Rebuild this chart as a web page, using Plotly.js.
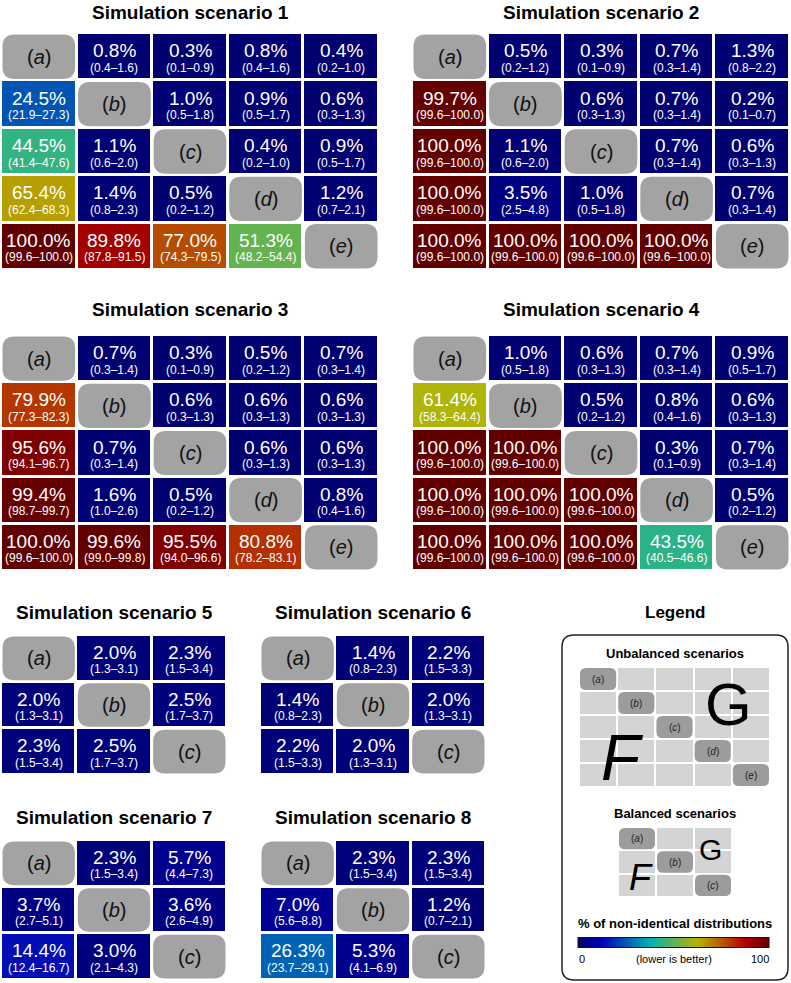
<!DOCTYPE html>
<html><head><meta charset="utf-8">
<script src="https://cdn.plot.ly/plotly-3.0.1.min.js"></script>
<style>html,body{margin:0;padding:0;background:#fff}</style>
</head><body><div id="chart" style="width:791px;height:983px"></div>
<script>
const W = 791, H = 983;
const FONT = 'Liberation Sans, Arial, sans-serif';

// ---- data ----
const labels5 = ['a','b','c','d','e'];
const labels3 = ['a','b','c'];
const titles = ['Simulation scenario 1','Simulation scenario 2','Simulation scenario 3','Simulation scenario 4',
                'Simulation scenario 5','Simulation scenario 6','Simulation scenario 7','Simulation scenario 8'];

const s1Pct = [[null,0.8,0.3,0.8,0.4],[24.5,null,1.0,0.9,0.6],[44.5,1.1,null,0.4,0.9],[65.4,1.4,0.5,null,1.2],[100.0,89.8,77.0,51.3,null]];
const s1Lo  = [[null,0.4,0.1,0.4,0.2],[21.9,null,0.5,0.5,0.3],[41.4,0.6,null,0.2,0.5],[62.4,0.8,0.2,null,0.7],[99.6,87.8,74.3,48.2,null]];
const s1Hi  = [[null,1.6,0.9,1.6,1.0],[27.3,null,1.8,1.7,1.3],[47.6,2.0,null,1.0,1.7],[68.3,2.3,1.2,null,2.1],[100.0,91.5,79.5,54.4,null]];

const s2Pct = [[null,0.5,0.3,0.7,1.3],[99.7,null,0.6,0.7,0.2],[100.0,1.1,null,0.7,0.6],[100.0,3.5,1.0,null,0.7],[100.0,100.0,100.0,100.0,null]];
const s2Lo  = [[null,0.2,0.1,0.3,0.8],[99.6,null,0.3,0.3,0.1],[99.6,0.6,null,0.3,0.3],[99.6,2.5,0.5,null,0.3],[99.6,99.6,99.6,99.6,null]];
const s2Hi  = [[null,1.2,0.9,1.4,2.2],[100.0,null,1.3,1.4,0.7],[100.0,2.0,null,1.4,1.3],[100.0,4.8,1.8,null,1.4],[100.0,100.0,100.0,100.0,null]];

const s3Pct = [[null,0.7,0.3,0.5,0.7],[79.9,null,0.6,0.6,0.6],[95.6,0.7,null,0.6,0.6],[99.4,1.6,0.5,null,0.8],[100.0,99.6,95.5,80.8,null]];
const s3Lo  = [[null,0.3,0.1,0.2,0.3],[77.3,null,0.3,0.3,0.3],[94.1,0.3,null,0.3,0.3],[98.7,1.0,0.2,null,0.4],[99.6,99.0,94.0,78.2,null]];
const s3Hi  = [[null,1.4,0.9,1.2,1.4],[82.3,null,1.3,1.3,1.3],[96.7,1.4,null,1.3,1.3],[99.7,2.6,1.2,null,1.6],[100.0,99.8,96.6,83.1,null]];

const s4Pct = [[null,1.0,0.6,0.7,0.9],[61.4,null,0.5,0.8,0.6],[100.0,100.0,null,0.3,0.7],[100.0,100.0,100.0,null,0.5],[100.0,100.0,100.0,43.5,null]];
const s4Lo  = [[null,0.5,0.3,0.3,0.5],[58.3,null,0.2,0.4,0.3],[99.6,99.6,null,0.1,0.3],[99.6,99.6,99.6,null,0.2],[99.6,99.6,99.6,40.5,null]];
const s4Hi  = [[null,1.8,1.3,1.4,1.7],[64.4,null,1.2,1.6,1.3],[100.0,100.0,null,0.9,1.4],[100.0,100.0,100.0,null,1.2],[100.0,100.0,100.0,46.6,null]];

const s5Pct = [[null,2.0,2.3],[2.0,null,2.5],[2.3,2.5,null]];
const s5Lo  = [[null,1.3,1.5],[1.3,null,1.7],[1.5,1.7,null]];
const s5Hi  = [[null,3.1,3.4],[3.1,null,3.7],[3.4,3.7,null]];

const s6Pct = [[null,1.4,2.2],[1.4,null,2.0],[2.2,2.0,null]];
const s6Lo  = [[null,0.8,1.5],[0.8,null,1.3],[1.5,1.3,null]];
const s6Hi  = [[null,2.3,3.3],[2.3,null,3.1],[3.3,3.1,null]];

const s7Pct = [[null,2.3,5.7],[3.7,null,3.6],[14.4,3.0,null]];
const s7Lo  = [[null,1.5,4.4],[2.7,null,2.6],[12.4,2.1,null]];
const s7Hi  = [[null,3.4,7.3],[5.1,null,4.9],[16.7,4.3,null]];

const s8Pct = [[null,2.3,2.3],[7.0,null,1.2],[26.3,5.3,null]];
const s8Lo  = [[null,1.5,1.5],[5.6,null,0.7],[23.7,4.1,null]];
const s8Hi  = [[null,3.4,3.4],[8.8,null,2.1],[29.1,6.9,null]];

// legend example grids (constant cells, diagonal empty)
const legUnbalanced = [[null,1,1,1,1],[1,null,1,1,1],[1,1,null,1,1],[1,1,1,null,1],[1,1,1,1,null]];
const legBalanced = [[null,1,1],[1,null,1],[1,1,null]];

// ---- layout geometry (pixels) ----
const panels = [
  {pct:s1Pct, lo:s1Lo, hi:s1Hi, lab:labels5, t:titles[0], x0:1,   x1:379, y0:33,  y1:270, ty:12},
  {pct:s2Pct, lo:s2Lo, hi:s2Hi, lab:labels5, t:titles[1], x0:412, x1:790, y0:33,  y1:270, ty:12},
  {pct:s3Pct, lo:s3Lo, hi:s3Hi, lab:labels5, t:titles[2], x0:1,   x1:379, y0:335, y1:571, ty:310},
  {pct:s4Pct, lo:s4Lo, hi:s4Hi, lab:labels5, t:titles[3], x0:412, x1:790, y0:335, y1:571, ty:310},
  {pct:s5Pct, lo:s5Lo, hi:s5Hi, lab:labels3, t:titles[4], x0:1,   x1:227, y0:635, y1:775, ty:612},
  {pct:s6Pct, lo:s6Lo, hi:s6Hi, lab:labels3, t:titles[5], x0:260, x1:486, y0:635, y1:775, ty:612},
  {pct:s7Pct, lo:s7Lo, hi:s7Hi, lab:labels3, t:titles[6], x0:1,   x1:227, y0:840, y1:980, ty:817},
  {pct:s8Pct, lo:s8Lo, hi:s8Hi, lab:labels3, t:titles[7], x0:260, x1:486, y0:840, y1:980, ty:817}
];
const legPanels = [
  {z:legUnbalanced, lab:labels5, x0:579, x1:770, y0:667, y1:787},
  {z:legBalanced,   lab:labels3, x0:618, x1:732, y0:827, y1:897}
];

const colorStops = [[0,'rgb(0,0,110)'],[0.125,'rgb(0,0,180)'],[0.375,'rgb(0,178,180)'],[0.625,'rgb(182,180,0)'],[0.875,'rgb(180,0,0)'],[1,'rgb(98,0,0)']];

function rr(w,h,r){
  const a=w/2,b=h/2;
  return `M ${-a+r},${-b} L ${a-r},${-b} Q ${a},${-b} ${a},${-b+r} L ${a},${b-r} Q ${a},${b} ${a-r},${b} L ${-a+r},${b} Q ${-a},${b} ${-a},${b-r} L ${-a},${-b+r} Q ${-a},${-b} ${-a+r},${-b} Z`;
}
const px = v => v/W, py = v => 1 - v/H;

const traces=[], annotations=[], shapes=[];
const layout = {
  width:W, height:H, margin:{l:0,r:0,t:0,b:0}, paper_bgcolor:'#fff', plot_bgcolor:'#fff',
  showlegend:false, hovermode:false, font:{family:FONT},
  coloraxis:{cmin:0, cmax:100, colorscale:colorStops,
    colorbar:{orientation:'h', x:px(673.5), xanchor:'center', y:py(942.5), yanchor:'middle',
      len:191, lenmode:'pixels', thickness:10, thicknessmode:'pixels', xpad:0, ypad:0,
      outlinewidth:1, outlinecolor:'#111', showticklabels:false, ticks:'', borderwidth:0}}
};

let k=0;
function axes(p,n){
  k++;
  const xa = k===1?'x':'x'+k, ya = k===1?'y':'y'+k;
  layout[k===1?'xaxis':'xaxis'+k] = {domain:[px(p.x0),px(p.x1)], range:[-0.5,n-0.5], visible:false, fixedrange:true, anchor:ya};
  layout[k===1?'yaxis':'yaxis'+k] = {domain:[py(p.y1),py(p.y0)], range:[n-0.5,-0.5], visible:false, fixedrange:true, anchor:xa};
  return [xa,ya];
}

panels.forEach(p=>{
  const n=p.pct.length, idx=[...Array(n).keys()];
  const [xa,ya]=axes(p,n);
  const gap=3;
  traces.push({type:'heatmap', z:p.pct, x:idx, y:idx, xaxis:xa, yaxis:ya, coloraxis:'coloraxis', xgap:gap, ygap:gap, hoverinfo:'skip'});
  const cw=(p.x1-p.x0)/n-gap, ch=(p.y1-p.y0)/n-gap;
  for(let r=0;r<n;r++) for(let c=0;c<n;c++){
    if(r===c){
      shapes.push({type:'path', xref:xa, yref:ya, xsizemode:'pixel', ysizemode:'pixel', xanchor:c, yanchor:r,
        path:rr(cw,ch,12), fillcolor:'#a3a3a3', line:{width:0}, layer:'above'});
      annotations.push({xref:xa, yref:ya, x:c, y:r, text:'(<i>'+p.lab[r]+'</i>)', showarrow:false,
        font:{size:20, color:'#111', family:FONT}, xanchor:'center', yanchor:'middle'});
    } else {
      annotations.push({xref:xa, yref:ya, x:c, y:r, text:p.pct[r][c].toFixed(1)+'%', showarrow:false,
        font:{size:19, color:'#fff', family:FONT}, xanchor:'center', yanchor:'middle', yshift:6});
      annotations.push({xref:xa, yref:ya, x:c, y:r, text:'('+p.lo[r][c].toFixed(1)+'–'+p.hi[r][c].toFixed(1)+')', showarrow:false,
        font:{size:12, color:'#fff', family:FONT}, xanchor:'center', yanchor:'middle', yshift:-11});
    }
  }
  annotations.push({xref:'paper', yref:'paper', x:px((p.x0+p.x1)/2), y:py(p.ty), text:'<b>'+p.t+'</b>', showarrow:false,
    font:{size:19, color:'#000', family:FONT}, xanchor:'center', yanchor:'middle'});
});

legPanels.forEach(p=>{
  const n=p.z.length, idx=[...Array(n).keys()];
  const [xa,ya]=axes(p,n);
  const gap=2;
  traces.push({type:'heatmap', z:p.z, x:idx, y:idx, xaxis:xa, yaxis:ya, zmin:0, zmax:1,
    colorscale:[[0,'#d4d4d4'],[1,'#d4d4d4']], showscale:false, xgap:gap, ygap:gap, hoverinfo:'skip'});
  const cw=(p.x1-p.x0)/n-gap, ch=(p.y1-p.y0)/n-gap;
  for(let r=0;r<n;r++){
    shapes.push({type:'path', xref:xa, yref:ya, xsizemode:'pixel', ysizemode:'pixel', xanchor:r, yanchor:r,
      path:rr(cw,ch,6), fillcolor:'#9c9c9c', line:{width:0}, layer:'above'});
    annotations.push({xref:xa, yref:ya, x:r, y:r, text:'(<i>'+p.lab[r]+'</i>)', showarrow:false,
      font:{size:10, color:'#222', family:FONT}, xanchor:'center', yanchor:'middle'});
  }
});

// legend box
shapes.push({type:'path', xref:'paper', yref:'paper', xsizemode:'pixel', ysizemode:'pixel',
  xanchor:px(675), yanchor:py(807.5), path:rr(226,345,12), fillcolor:'rgba(0,0,0,0)', line:{color:'#222', width:1.5}, layer:'above'});

const legText = [
  {x:675, y:612, t:'<b>Legend</b>', s:17},
  {x:675, y:653, t:'<b>Unbalanced scenarios</b>', s:13},
  {x:675, y:813, t:'<b>Balanced scenarios</b>', s:13},
  {x:675, y:923, t:'<b>% of non-identical distributions</b>', s:13},
  {x:582, y:959, t:'0', s:11},
  {x:674, y:959, t:'(lower is better)', s:11},
  {x:760, y:959, t:'100', s:11},
  {x:622, y:758, t:'<i>F</i>', s:64},
  {x:728, y:704, t:'G', s:60},
  {x:641, y:877, t:'<i>F</i>', s:36},
  {x:710, y:849, t:'G', s:30}
];
legText.forEach(a=>annotations.push({xref:'paper', yref:'paper', x:px(a.x), y:py(a.y), text:a.t, showarrow:false,
  font:{size:a.s, color:'#000', family:FONT}, xanchor:'center', yanchor:'middle'}));

layout.annotations=annotations;
layout.shapes=shapes;
Plotly.newPlot('chart', traces, layout, {staticPlot:true, displayModeBar:false});
</script></body></html>
